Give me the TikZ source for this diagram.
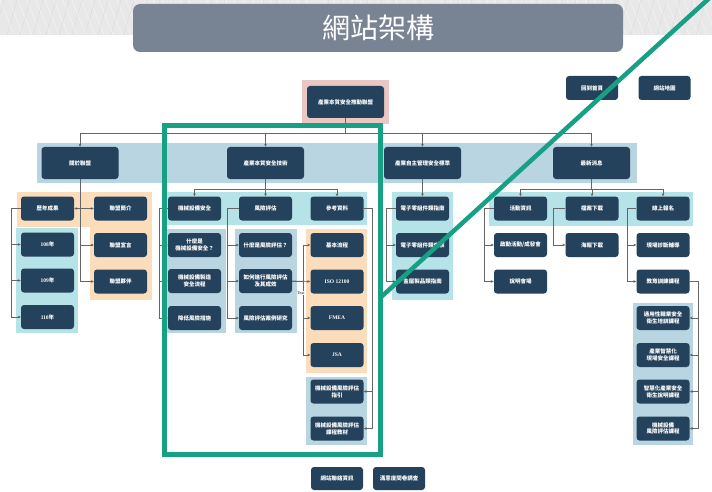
\documentclass[tikz,border=0pt]{standalone}
\usepackage{fontspec}
\newfontfamily\cjk{Noto Sans CJK TC}
\newfontfamily\latf{Liberation Serif}
\usetikzlibrary{arrows.meta}
\definecolor{nodebg}{HTML}{24425B}
\definecolor{titlebg}{HTML}{788394}
\definecolor{bandblue}{HTML}{B8D5E1}
\definecolor{bandteal}{HTML}{B6E3E8}
\definecolor{bandorange}{HTML}{FCDDBB}
\definecolor{bandpink}{HTML}{EAC7C3}
\definecolor{greenline}{HTML}{18A085}
\definecolor{texgray}{HTML}{E8E8E8}
\definecolor{wire}{HTML}{666666}
\tikzset{
  box/.style={fill=nodebg, rounded corners=3pt, text=white, align=center,
    inner sep=0pt, minimum width=53pt, minimum height=24pt,
    font=\cjk\bfseries\fontsize{5.5}{6.8}\selectfont},
  bigbox/.style={box, minimum width=77pt, minimum height=32pt},
  wirearrow/.style={draw=wire, line width=0.7pt, -{Stealth[length=3pt,width=2.6pt,fill=black]}},
  greenstroke/.style={draw=greenline, line width=5pt},
}
\begin{document}
\begin{tikzpicture}[x=1pt,y=-1pt]
\useasboundingbox (0,0) rectangle (712,492);
\fill[white] (0,0) rectangle (712,492);
\fill[texgray] (0,0) rectangle (712,35);
\foreach \i in {0,9,...,712} {\draw[white, line width=0.4pt, opacity=0.6] (\i,0) -- ++(14,35);}
\foreach \i in {4,17,...,712} {\draw[gray!40, line width=0.3pt, opacity=0.6] (\i,0) -- ++(-10,35);}

% title
\node[fill=titlebg, rounded corners=7pt, minimum width=490pt, minimum height=48pt,
      text=white, font=\cjk\fontsize{28}{30}\selectfont] (title) at (378,28) {網站架構};

% bands
\fill[bandpink] (302,80) rectangle (389,124);
\fill[bandblue] (37,143) rectangle (637,183);
\fill[bandorange] (17,192) rectangle (91,227);
\fill[bandorange] (90,192) rectangle (152,300);
\fill[bandteal] (16,228) rectangle (78,333);
\fill[bandteal] (167,192) rectangle (367,225);
\fill[bandblue] (167,229) rectangle (226,333);
\fill[bandblue] (235,229) rectangle (297,333);
\fill[bandorange] (306,229) rectangle (367,373);
\fill[bandblue] (306,377) rectangle (367,445);
\fill[bandteal] (392,192) rectangle (453,300);
\fill[bandteal] (489,192) rectangle (693,226);
\fill[bandblue] (633,303) rectangle (693,445);

% nodes
\node[bigbox] (top) at (345.5,102) {產業本質安全推動聯盟};
\node[box, minimum width=52pt] (home) at (592,88) {回到首頁};
\node[box, minimum width=52pt] (map) at (664.5,88) {網站地圖};

\node[bigbox] (about) at (80,163) {關於聯盟};
\node[bigbox] (tech) at (265.5,163) {產業本質安全技術};
\node[bigbox] (std) at (422.5,163) {產業自主管理安全標準};
\node[bigbox] (news) at (591.5,163) {最新消息};

% about
\node[box] (hist) at (47.5,208.5) {歷年成果};
\node[box] (y108) at (47.5,244.5) {{\latf\bfseries 108}年};
\node[box] (y109) at (47.5,280.5) {{\latf\bfseries 109}年};
\node[box] (y110) at (47.5,317) {{\latf\bfseries 110}年};
\node[box] (intro) at (120.5,208.5) {聯盟簡介};
\node[box] (decl) at (120.5,245) {聯盟宣言};
\node[box] (partner) at (120.5,281.5) {聯盟夥伴};

% tech
\node[box] (mach) at (194.5,208.5) {機械設備安全};
\node[box] (risk) at (265.5,208.5) {風險評估};
\node[box] (ref) at (337,208.5) {參考資料};
\node[box] (m1) at (194.5,245) {什麼是\\機械設備安全？};
\node[box] (m2) at (194.5,281) {機械設備製造\\安全流程};
\node[box] (m3) at (194.5,318) {降低風險措施};
\node[box] (r1) at (265.5,245) {什麼是風險評估？};
\node[box] (r2) at (265.5,281) {如何進行風險評估\\及其成效};
\node[box] (r3) at (265.5,318) {風險評估案例研究};
\node[box] (basic) at (337,245) {基本流程};
\node[box] (iso) at (337,281.5) {\latf\bfseries ISO 12100};
\node[box] (fmea) at (337,318) {\latf\bfseries FMEA};
\node[box] (jsa) at (337,355) {\latf\bfseries JSA};
\node[box] (g1) at (337,391.5) {機械設備風險評估\\指引};
\node[box] (g2) at (337,428.5) {機械設備風險評估\\課程教材};

% std
\node[box] (s1) at (422.5,208.5) {電子零組件類指南};
\node[box] (s2) at (422.5,245) {電子零組件類查核};
\node[box] (s3) at (422.5,281.5) {金屬製品類指南};

% news
\node[box] (act) at (520.5,208.5) {活動資訊};
\node[box] (dl) at (592,208.5) {檔案下載};
\node[box] (reg) at (663,208.5) {線上報名};
\node[box] (a1) at (520.5,245) {啟動活動/成發會};
\node[box] (a2) at (520.5,281.5) {說明會場};
\node[box] (d1) at (592,245) {海報下載};
\node[box] (e1) at (663,245) {現場診斷輔導};
\node[box] (edu) at (663,281.5) {教育訓練課程};
\node[box] (c1) at (663,318) {通用性職業安全\\衛生培訓課程};
\node[box] (c2) at (663,355) {產業智慧化\\現場安全課程};
\node[box] (c3) at (663,391.5) {智慧化產業安全\\衛生說明課程};
\node[box] (c4) at (663,428.5) {機械設備\\風險評估課程};

% bottom
\node[box, minimum width=52pt, minimum height=23pt] (contact) at (337,478.5) {網站聯絡資訊};
\node[box, minimum width=52pt, minimum height=23pt] (survey) at (399,478.5) {滿意度問卷調查};

% connectors: level 1
\foreach \c in {about,tech,std,news} {\draw[wirearrow] (top.south) -- ++(0,15) -| (\c.north);}
% about
\draw[wirearrow] (about.south) |- (hist.east);
\foreach \c in {intro,decl,partner} {\draw[wirearrow] (about.south) |- (\c.west);}
\foreach \c in {y108,y109,y110} {\draw[wirearrow] (hist.west) -- ++(-9,0) |- (\c.west);}
% tech
\foreach \c in {mach,risk,ref} {\draw[wirearrow] (tech.south) -- ++(0,10) -| (\c.north);}
\foreach \c in {m1,m2,m3} {\draw[wirearrow] (mach.west) -- ++(-8,0) |- (\c.west);}
\foreach \c in {r1,r2,r3} {\draw[wirearrow] (risk.west) -- ++(-11,0) |- (\c.west);}
\draw[wirearrow] (r2.east) -- (iso.west);
\foreach \c in {basic,fmea,jsa} {\draw[wirearrow] (r2.east) -- ++(11,0) |- (\c.west);}
\node[fill=white, inner sep=0.6pt, font=\latf\fontsize{4}{4}\selectfont] (textlbl) at (301,293) {Text};
\foreach \c in {g1,g2} {\draw[wirearrow] (ref.east) -- ++(9,0) |- (\c.east);}
% std
\draw[wirearrow] (std.south) -- (s1.north);
\foreach \c in {s2,s3} {\draw[wirearrow] (s1.west) -- ++(-9,0) |- (\c.west);}
% news
\foreach \c in {act,dl,reg} {\draw[wirearrow] (news.south) -- ++(0,10) -| (\c.north);}
\foreach \c in {a1,a2} {\draw[wirearrow] (act.west) -- ++(-9,0) |- (\c.west);}
\draw[wirearrow] (dl.west) -- ++(-12,0) |- (d1.west);
\foreach \c in {e1,edu} {\draw[wirearrow] (reg.west) -- ++(-9,0) |- (\c.west);}
\foreach \c in {c1,c2,c3,c4} {\draw[wirearrow] (edu.east) -- ++(9,0) |- (\c.east);}

% green overlay
\draw[greenstroke] (164,125.5) rectangle (380,454.5);
\draw[greenstroke, line width=4.5pt] (380,298) -- (716,-8);
\end{tikzpicture}
\end{document}
